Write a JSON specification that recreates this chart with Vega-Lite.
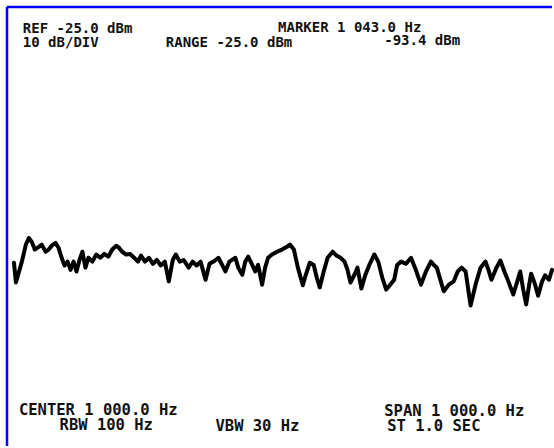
{
  "$schema": "https://vega.github.io/schema/vega-lite/v6.json",
  "width": 554,
  "height": 448,
  "autosize": {"type": "fit", "contains": "padding"},
  "padding": {"left": 5, "top": 5, "right": 0, "bottom": 0},
  "background": "white",
  "config": {"view": {"stroke": null}},
  "datasets": {
    "trace": [
      {"f": 512.8, "dbm": -71.6}, {"f": 516.4, "dbm": -75.2}, {"f": 527.3, "dbm": -71.4}, {"f": 534.6, "dbm": -68.3},
      {"f": 540.1, "dbm": -67.1}, {"f": 545.5, "dbm": -67.8}, {"f": 551.0, "dbm": -69.2}, {"f": 558.3, "dbm": -68.7},
      {"f": 563.8, "dbm": -68.3}, {"f": 571.0, "dbm": -69.6}, {"f": 576.5, "dbm": -69.2}, {"f": 582.0, "dbm": -68.5},
      {"f": 589.3, "dbm": -68.0}, {"f": 594.7, "dbm": -68.9}, {"f": 600.2, "dbm": -70.7}, {"f": 605.6, "dbm": -72.1},
      {"f": 611.1, "dbm": -71.4}, {"f": 616.6, "dbm": -72.9}, {"f": 622.0, "dbm": -71.4}, {"f": 627.5, "dbm": -73.2},
      {"f": 633.0, "dbm": -71.1}, {"f": 638.4, "dbm": -69.6}, {"f": 643.9, "dbm": -72.5}, {"f": 649.4, "dbm": -70.7},
      {"f": 656.6, "dbm": -71.4}, {"f": 663.9, "dbm": -70.1}, {"f": 671.2, "dbm": -70.7}, {"f": 678.5, "dbm": -70.0},
      {"f": 685.8, "dbm": -70.5}, {"f": 693.1, "dbm": -69.2}, {"f": 700.4, "dbm": -68.5}, {"f": 705.8, "dbm": -68.9},
      {"f": 711.3, "dbm": -69.6}, {"f": 718.6, "dbm": -70.1}, {"f": 725.9, "dbm": -70.0}, {"f": 733.2, "dbm": -70.7},
      {"f": 740.4, "dbm": -71.4}, {"f": 745.9, "dbm": -70.3}, {"f": 753.2, "dbm": -71.4}, {"f": 760.5, "dbm": -70.7},
      {"f": 767.8, "dbm": -71.8}, {"f": 775.0, "dbm": -71.1}, {"f": 782.3, "dbm": -72.1}, {"f": 789.6, "dbm": -71.4},
      {"f": 796.9, "dbm": -75.0}, {"f": 804.2, "dbm": -71.1}, {"f": 809.7, "dbm": -70.1}, {"f": 816.9, "dbm": -71.4},
      {"f": 824.2, "dbm": -71.1}, {"f": 833.3, "dbm": -72.5}, {"f": 840.6, "dbm": -71.4}, {"f": 847.9, "dbm": -72.1},
      {"f": 855.2, "dbm": -71.4}, {"f": 864.3, "dbm": -74.7}, {"f": 871.6, "dbm": -71.8}, {"f": 878.9, "dbm": -71.4},
      {"f": 888.0, "dbm": -70.7}, {"f": 895.3, "dbm": -72.1}, {"f": 900.7, "dbm": -73.2}, {"f": 908.0, "dbm": -71.4},
      {"f": 919.0, "dbm": -70.7}, {"f": 924.4, "dbm": -72.5}, {"f": 931.7, "dbm": -73.8}, {"f": 937.2, "dbm": -71.4},
      {"f": 942.6, "dbm": -70.5}, {"f": 949.9, "dbm": -72.0}, {"f": 955.4, "dbm": -73.2}, {"f": 960.8, "dbm": -72.0},
      {"f": 968.1, "dbm": -75.6}, {"f": 973.6, "dbm": -72.5}, {"f": 979.1, "dbm": -70.7}, {"f": 986.3, "dbm": -70.1},
      {"f": 995.4, "dbm": -69.6}, {"f": 1004.6, "dbm": -69.2}, {"f": 1013.7, "dbm": -68.7}, {"f": 1019.1, "dbm": -68.3},
      {"f": 1026.4, "dbm": -69.2}, {"f": 1033.7, "dbm": -72.5}, {"f": 1042.8, "dbm": -75.7}, {"f": 1048.3, "dbm": -73.8},
      {"f": 1055.6, "dbm": -71.6}, {"f": 1062.8, "dbm": -72.0}, {"f": 1068.3, "dbm": -74.3}, {"f": 1073.8, "dbm": -76.1},
      {"f": 1081.1, "dbm": -73.2}, {"f": 1088.3, "dbm": -70.7}, {"f": 1097.5, "dbm": -69.6}, {"f": 1104.7, "dbm": -70.3},
      {"f": 1112.0, "dbm": -70.7}, {"f": 1119.3, "dbm": -71.4}, {"f": 1124.8, "dbm": -72.9}, {"f": 1130.2, "dbm": -75.2},
      {"f": 1137.5, "dbm": -73.8}, {"f": 1143.0, "dbm": -72.5}, {"f": 1150.3, "dbm": -76.3}, {"f": 1157.6, "dbm": -73.8},
      {"f": 1164.8, "dbm": -72.0}, {"f": 1174.0, "dbm": -70.1}, {"f": 1181.2, "dbm": -71.4}, {"f": 1188.5, "dbm": -74.3},
      {"f": 1195.8, "dbm": -76.5}, {"f": 1203.1, "dbm": -75.6}, {"f": 1210.4, "dbm": -74.7}, {"f": 1215.9, "dbm": -72.0},
      {"f": 1223.1, "dbm": -71.4}, {"f": 1232.2, "dbm": -71.8}, {"f": 1241.3, "dbm": -70.7}, {"f": 1248.6, "dbm": -72.5},
      {"f": 1259.6, "dbm": -75.6}, {"f": 1268.7, "dbm": -73.2}, {"f": 1277.8, "dbm": -71.4}, {"f": 1283.2, "dbm": -72.0},
      {"f": 1288.7, "dbm": -72.5}, {"f": 1296.0, "dbm": -75.0}, {"f": 1301.5, "dbm": -76.8}, {"f": 1310.6, "dbm": -75.6},
      {"f": 1319.7, "dbm": -75.0}, {"f": 1327.0, "dbm": -73.2}, {"f": 1334.2, "dbm": -72.5}, {"f": 1341.5, "dbm": -73.2},
      {"f": 1350.6, "dbm": -79.4}, {"f": 1359.7, "dbm": -75.6}, {"f": 1368.9, "dbm": -72.5}, {"f": 1378.0, "dbm": -71.4},
      {"f": 1383.4, "dbm": -72.9}, {"f": 1388.9, "dbm": -74.7}, {"f": 1398.0, "dbm": -72.5}, {"f": 1405.3, "dbm": -71.2},
      {"f": 1412.6, "dbm": -73.2}, {"f": 1419.9, "dbm": -75.0}, {"f": 1429.0, "dbm": -77.4}, {"f": 1436.3, "dbm": -75.0},
      {"f": 1441.7, "dbm": -73.2}, {"f": 1447.2, "dbm": -76.5}, {"f": 1452.6, "dbm": -79.2}, {"f": 1458.1, "dbm": -75.6},
      {"f": 1461.8, "dbm": -73.6}, {"f": 1469.0, "dbm": -75.6}, {"f": 1474.5, "dbm": -77.6}, {"f": 1481.8, "dbm": -75.0},
      {"f": 1487.3, "dbm": -73.9}, {"f": 1494.5, "dbm": -74.7}, {"f": 1500.0, "dbm": -72.9}
    ],
    "topText": [
      {"label": "REF -25.0 dBm", "f": 529.0, "dbm": -29.7},
      {"label": "10 dB/DIV", "f": 529.0, "dbm": -32.2},
      {"label": "RANGE -25.0 dBm", "f": 791.4, "dbm": -32.2},
      {"label": "MARKER 1 043.0 Hz", "f": 997.3, "dbm": -29.5},
      {"label": "-93.4 dBm", "f": 1192.2, "dbm": -32.0}
    ],
    "bottomText": [
      {"label": "CENTER 1 000.0 Hz", "f": 521.9, "dbm": -99.4},
      {"label": "RBW 100 Hz", "f": 596.5, "dbm": -102.1},
      {"label": "VBW 30 Hz", "f": 882.5, "dbm": -102.3},
      {"label": "SPAN 1 000.0 Hz", "f": 1192.2, "dbm": -99.6},
      {"label": "ST 1.0 SEC", "f": 1197.6, "dbm": -102.3}
    ],
    "frame": [
      {"f": 500, "f2": 1500, "dbm": -25, "dbm2": -25},
      {"f": 500, "f2": 500, "dbm": -105, "dbm2": -25}
    ]
  },
  "layer": [
    {
      "data": {"name": "frame"},
      "mark": {"type": "rule", "color": "#0000ff", "strokeWidth": 2.5},
      "encoding": {
        "x": {"field": "f", "type": "quantitative", "scale": {"domain": [500, 1500], "nice": false, "zero": false}, "axis": null},
        "x2": {"field": "f2"},
        "y": {"field": "dbm", "type": "quantitative", "scale": {"domain": [-105, -25], "nice": false, "zero": false}, "axis": null},
        "y2": {"field": "dbm2"}
      }
    },
    {
      "data": {"name": "trace"},
      "mark": {"type": "line", "color": "#000000", "strokeWidth": 4, "strokeJoin": "round", "strokeCap": "round"},
      "encoding": {
        "x": {"field": "f", "type": "quantitative", "scale": {"domain": [500, 1500], "nice": false, "zero": false}, "axis": null},
        "y": {"field": "dbm", "type": "quantitative", "scale": {"domain": [-105, -25], "nice": false, "zero": false}, "axis": null}
      }
    },
    {
      "data": {"name": "topText"},
      "mark": {"type": "text", "align": "left", "baseline": "alphabetic", "font": "DejaVu Sans Mono", "fontWeight": "bold", "fontSize": 14, "color": "#111111"},
      "encoding": {
        "x": {"field": "f", "type": "quantitative", "axis": null},
        "y": {"field": "dbm", "type": "quantitative", "axis": null},
        "text": {"field": "label"}
      }
    },
    {
      "data": {"name": "bottomText"},
      "mark": {"type": "text", "align": "left", "baseline": "alphabetic", "font": "DejaVu Sans Mono", "fontWeight": "bold", "fontSize": 15.5, "color": "#111111"},
      "encoding": {
        "x": {"field": "f", "type": "quantitative", "axis": null},
        "y": {"field": "dbm", "type": "quantitative", "axis": null},
        "text": {"field": "label"}
      }
    }
  ]
}
